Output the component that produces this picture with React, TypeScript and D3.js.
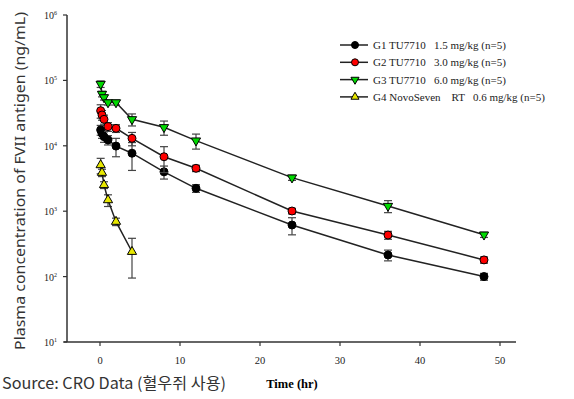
import React, { useEffect, useRef } from 'react';
import * as d3 from 'd3';

// sampling times (hr)
const timesMain = [0.083, 0.25, 0.5, 1, 2, 4, 8, 12, 24, 36, 48];
const timesG4 = [0.083, 0.25, 0.5, 1, 2, 4];

// mean concentrations (ng/mL) and SD
const g1Mean = [17500, 15500, 13800, 12300, 9900, 7700, 4000, 2240, 615, 214, 100];
const g1Sd = [3000, 2500, 2500, 2000, 3100, 3500, 900, 300, 180, 40, 12];
const g2Mean = [34400, 29600, 25400, 19600, 18500, 13000, 6800, 4530, 1007, 432, 180];
const g2Sd = [8000, 5000, 4000, 3000, 2500, 3000, 2900, 500, 100, 60, 20];
const g3Mean = [88000, 62000, 55000, 46000, 46000, 25400, 19200, 12000, 3260, 1200, 437];
const g3Sd = [10000, 6000, 5000, 4000, 4000, 5300, 4700, 3100, 300, 250, 40];
const g4Mean = [5080, 3880, 2520, 1480, 692, 240];
const g4Sd = [1350, 500, 300, 300, 90, 145];

const legendLabels = [
    'G1 TU7710   1.5 mg/kg (n=5)',
    'G2 TU7710   3.0 mg/kg (n=5)',
    'G3 TU7710   6.0 mg/kg (n=5)',
    'G4 NovoSeven    RT   0.6 mg/kg (n=5)',
];
const yTickExps = [1, 2, 3, 4, 5, 6];
const xTicks = [0, 10, 20, 30, 40, 50];

const App = () => {
    const svgRef = useRef(null);

    useEffect(() => {
        const svg = d3.select(svgRef.current);
        svg.selectAll('*').remove();

        const series = [
            { t: timesMain, m: g1Mean, sd: g1Sd, fill: '#000000', shape: 'circle' },
            { t: timesMain, m: g2Mean, sd: g2Sd, fill: '#ff0000', shape: 'circle' },
            { t: timesMain, m: g3Mean, sd: g3Sd, fill: '#00d800', shape: 'down' },
            { t: timesG4, m: g4Mean, sd: g4Sd, fill: '#e8e800', shape: 'up' },
        ];

        const x = d3.scaleLinear().domain([-4.5, 52]).range([64, 516]);
        const y = d3.scaleLog().domain([10, 1e6]).range([342, 15]);

        // axes
        const yAxis = svg.append('g').attr('transform', 'translate(67,0)');
        yAxis.append('line').attr('x1', 0).attr('x2', 0).attr('y1', 15).attr('y2', 342)
            .attr('stroke', '#333').attr('stroke-width', 1.5);
        yTickExps.forEach((e) => {
            const yy = y(Math.pow(10, e));
            yAxis.append('line').attr('x1', -4).attr('x2', 0).attr('y1', yy).attr('y2', yy)
                .attr('stroke', '#333').attr('stroke-width', 1.2);
            const txt = yAxis.append('text').attr('x', -10).attr('y', yy + 4)
                .attr('text-anchor', 'end').attr('font-family', 'Liberation Serif')
                .attr('font-size', 10).attr('fill', '#222');
            txt.append('tspan').text('10');
            txt.append('tspan').attr('dy', -4).attr('font-size', 6).text(String(e));
        });

        const xAxis = svg.append('g').attr('transform', 'translate(0,342)');
        xAxis.append('line').attr('x1', 64).attr('x2', 516).attr('y1', 0).attr('y2', 0)
            .attr('stroke', '#333').attr('stroke-width', 1.5);
        xTicks.forEach((t) => {
            xAxis.append('line').attr('x1', x(t)).attr('x2', x(t)).attr('y1', 0).attr('y2', 4)
                .attr('stroke', '#333').attr('stroke-width', 1.2);
            xAxis.append('text').attr('x', x(t)).attr('y', 22).attr('text-anchor', 'middle')
                .attr('font-family', 'Liberation Serif').attr('font-size', 10.5)
                .attr('fill', '#222').text(String(t));
        });

        svg.append('text').attr('x', 292).attr('y', 388).attr('text-anchor', 'middle')
            .attr('font-family', 'Liberation Serif').attr('font-weight', 'bold')
            .attr('font-size', 12.5).text('Time (hr)');

        svg.append('text').attr('x', 2).attr('y', 389)
            .attr('font-family', "'Noto Sans CJK KR', 'Noto Sans'").attr('font-size', 15.5)
            .attr('textLength', 224).attr('lengthAdjust', 'spacingAndGlyphs')
            .attr('fill', '#333').text('Source: CRO Data (혈우쥐 사용)');

        svg.append('text').attr('transform', 'translate(25,181) rotate(-90)')
            .attr('text-anchor', 'middle').attr('font-family', "'Noto Sans'")
            .attr('font-size', 15).attr('fill', '#333')
            .attr('textLength', 338).attr('lengthAdjust', 'spacingAndGlyphs')
            .text('Plasma concentration of FVII antigen (ng/mL)');

        const drawMarker = (g, shape, fill, cx, cy, r) => {
            if (shape === 'circle') {
                g.append('circle').attr('cx', cx).attr('cy', cy).attr('r', r)
                    .attr('fill', fill).attr('stroke', '#000').attr('stroke-width', 1);
            } else {
                const sym = d3.symbol().type(d3.symbolTriangle).size(r * r * 2.3);
                g.append('path').attr('d', sym())
                    .attr('transform', `translate(${cx},${cy}) rotate(${shape === 'down' ? 180 : 0})`)
                    .attr('fill', fill).attr('stroke', '#000').attr('stroke-width', 1);
            }
        };

        const line = d3.line().x((d) => x(d[0])).y((d) => y(d[1]));

        series.forEach((s) => {
            const g = svg.append('g');
            const pts = s.t.map((t, i) => [t, s.m[i]]);
            // error bars
            s.t.forEach((t, i) => {
                const hi = y(s.m[i] + s.sd[i]);
                const lo = y(Math.max(s.m[i] - s.sd[i], 11));
                const cx = x(t);
                g.append('line').attr('x1', cx).attr('x2', cx).attr('y1', hi).attr('y2', lo)
                    .attr('stroke', '#444').attr('stroke-width', 1.2);
                [hi, lo].forEach((yy) => {
                    g.append('line').attr('x1', cx - 4).attr('x2', cx + 4).attr('y1', yy).attr('y2', yy)
                        .attr('stroke', '#444').attr('stroke-width', 1.2);
                });
            });
            g.append('path').datum(pts).attr('d', line).attr('fill', 'none')
                .attr('stroke', '#222').attr('stroke-width', 1.5);
            pts.forEach((p) => drawMarker(g, s.shape, s.fill, x(p[0]), y(p[1]), 4));
        });

        // legend
        const legend = svg.append('g');
        series.forEach((s, i) => {
            const ly = 45 + i * 17.3;
            legend.append('line').attr('x1', 340).attr('x2', 368).attr('y1', ly).attr('y2', ly)
                .attr('stroke', '#222').attr('stroke-width', 1.5);
            drawMarker(legend, s.shape, s.fill, 355, ly, 3.5);
            legend.append('text').attr('x', 373).attr('y', ly + 4)
                .attr('font-family', 'Liberation Serif').attr('font-size', 11)
                .attr('fill', '#222').attr('xml:space', 'preserve')
                .style('white-space', 'pre').text(legendLabels[i]);
        });
    }, []);

    return (
        <svg ref={svgRef} width={574} height={399}
            style={{ position: 'absolute', left: 0, top: 0, background: '#fff' }} />
    );
};

export default App;
